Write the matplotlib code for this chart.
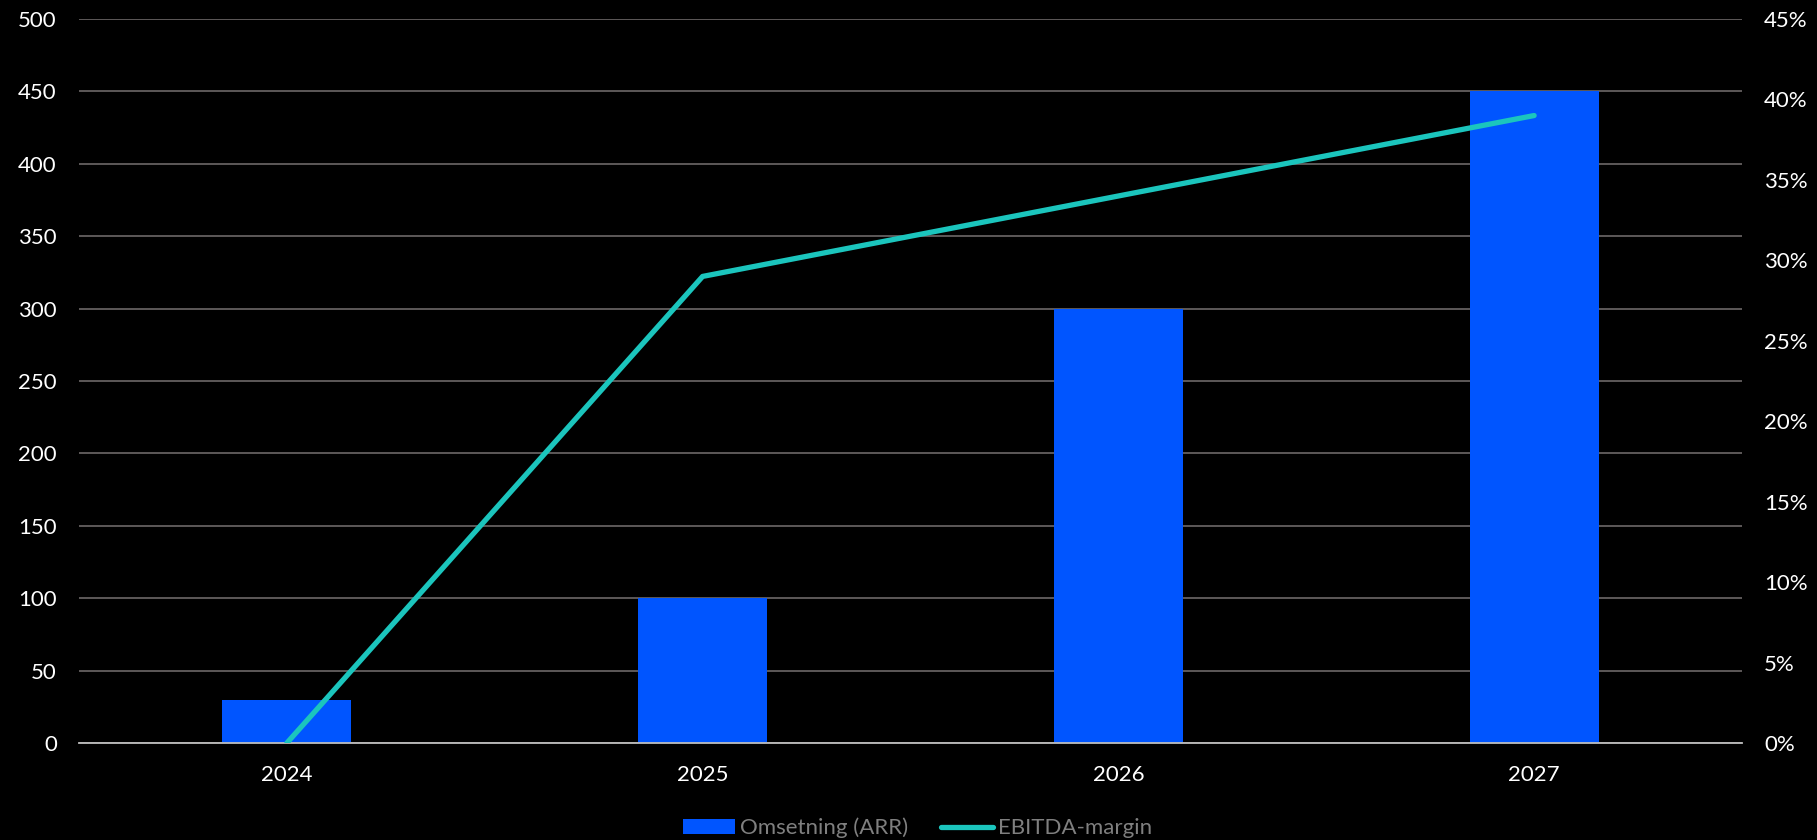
import matplotlib.pyplot as plt
from matplotlib.ticker import FuncFormatter, MultipleLocator

years = ["2024", "2025", "2026", "2027"]
revenue = [30, 100, 300, 450]
ebitda_margin = [0, 29, 34, 39]

plt.rcParams['font.family'] = ['Lato', 'DejaVu Sans']

W, H = 1817, 840
fig = plt.figure(figsize=(W / 100, H / 100), dpi=100, facecolor='black')
ax = fig.add_axes([79 / W, 1 - 743 / H, (1742 - 79) / W, (743 - 19) / H])
ax.set_facecolor('black')

x = range(len(years))
bars = ax.bar(x, revenue, width=0.31, color='#0055FF', zorder=2, label='Omsetning (ARR)')
ax.set_xlim(-0.5, 3.5)
ax.set_ylim(0, 500)
ax.yaxis.set_major_locator(MultipleLocator(50))
ax.set_xticks(list(x))
ax.set_xticklabels(years)
ax.grid(axis='y', color='#767171', linewidth=1.1, zorder=0)
for s in ['top', 'left', 'right']:
    ax.spines[s].set_visible(False)
ax.spines['bottom'].set_color('#BFBFBF')
ax.spines['bottom'].set_linewidth(1.3)
ax.spines['bottom'].set_zorder(3)
ax.tick_params(axis='both', length=0, colors='white', labelsize=16)
ax.tick_params(axis='x', pad=16)
ax.tick_params(axis='y', pad=16)

ax2 = ax.twinx()
line, = ax2.plot(x, ebitda_margin, color='#1BC5BD', linewidth=3.8,
                 solid_capstyle='round', zorder=4, label='EBITDA-margin')
ax2.set_ylim(0, 45)
ax2.yaxis.set_major_locator(MultipleLocator(5))
ax2.yaxis.set_major_formatter(FuncFormatter(lambda v, p: f"{v:.0f}%"))
for s in ax2.spines.values():
    s.set_visible(False)
ax2.tick_params(axis='y', length=0, colors='white', labelsize=16, pad=16)

leg = fig.legend([bars, line], ['Omsetning (ARR)', 'EBITDA-margin'],
                 loc='center', bbox_to_anchor=(0.505, 1 - 828 / H), ncol=2,
                 frameon=False, fontsize=16, handlelength=2.35, handleheight=0.63,
                 columnspacing=1.5, handletextpad=0.2, borderpad=0, borderaxespad=0)
for t in leg.get_texts():
    t.set_color('#7F7F7F')

fig.savefig('out.png', dpi=100, facecolor='black')
